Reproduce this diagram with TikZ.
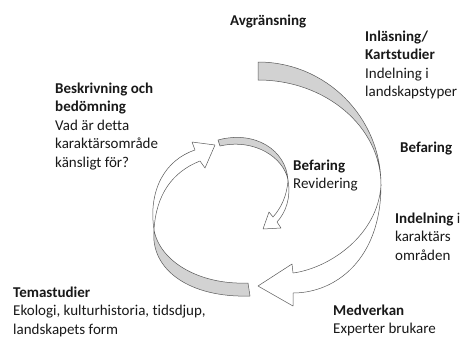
\documentclass[tikz,border=0pt]{standalone}
\usepackage{fontspec}
\setmainfont{Carlito}[Ligatures={NoCommon}]
\newcommand\txtblock[1]{\parbox[t]{230pt}{\raggedright #1}}
\begin{document}
\begin{tikzpicture}[x=1pt,y=-1pt,
  ribbon/.style={fill=gray!35, draw=black!65, line width=0.5pt, line join=round},
  ribbonw/.style={fill=white, draw=black!65, line width=0.5pt, line join=round},
  txt/.style={anchor=base west, inner sep=0pt, font=\fontsize{15}{18.5}\selectfont, text=black!90}]
\useasboundingbox (0,0) rectangle (462,338);
\fill[white] (0,0) rectangle (462,338);
% big outer arrow
\draw[ribbon] (258,62) .. controls (325.9,62) and (381,117.1) .. (381,185)
  .. controls (381,127) and (325.9,80) .. (258,80) -- cycle;
\draw[ribbonw] (381,185) .. controls (378,235) and (330,268) .. (293,273)
  -- (292,264) -- (258,286) -- (293,306) -- (293,293)
  .. controls (335,293) and (381,260) .. (381,185) -- cycle;
% left arrow
\draw[ribbon] (250,296) .. controls (190,298) and (150,270) .. (154,230)
  .. controls (160,262) and (200,285) .. (248,283) -- cycle;
\draw[ribbonw] (154,230) .. controls (148,190) and (165,160) .. (195,150)
  -- (192,142) -- (215,145) -- (205,168) -- (200,161)
  .. controls (172,172) and (156,195) .. (154,230) -- cycle;
% small inner arrow
\draw[ribbon] (218,140) .. controls (255,130) and (286,150) .. (288,180)
  .. controls (284,158) and (255,138) .. (220,146) -- cycle;
\draw[ribbonw] (288,180) .. controls (291,198) and (286,212) .. (277,222)
  -- (281,228) -- (263,229) -- (269,212) -- (273,217)
  .. controls (281,208) and (287,196) .. (288,180) -- cycle;
% texts
\node[txt] (avg) at (230,25) {\textbf{Avgränsning}};
\node[txt] (inl) at (365,41) {\txtblock{\textbf{Inläsning/}\\\textbf{Kartstudier}\\Indelning i\\landskapstyper}};
\node[txt] (bef1) at (400,152) {\textbf{Befaring}};
\node[txt] (bef2) at (293,170) {\txtblock{\textbf{Befaring}\\Revidering}};
\node[txt] (besk) at (55,93) {\txtblock{\textbf{Beskrivning och}\\\textbf{bedömning}\\Vad är detta\\karaktärsområde\\känsligt för?}};
\node[txt] (ind) at (395,223) {\txtblock{\textbf{Indelning} i\\karaktärs\\områden}};
\node[txt] (tema) at (13,297) {\txtblock{\textbf{Temastudier}\\Ekologi, kulturhistoria, tidsdjup,\\landskapets form}};
\node[txt] (med) at (333,315) {\txtblock{\textbf{Medverkan}\\Experter brukare}};
\end{tikzpicture}
\end{document}
